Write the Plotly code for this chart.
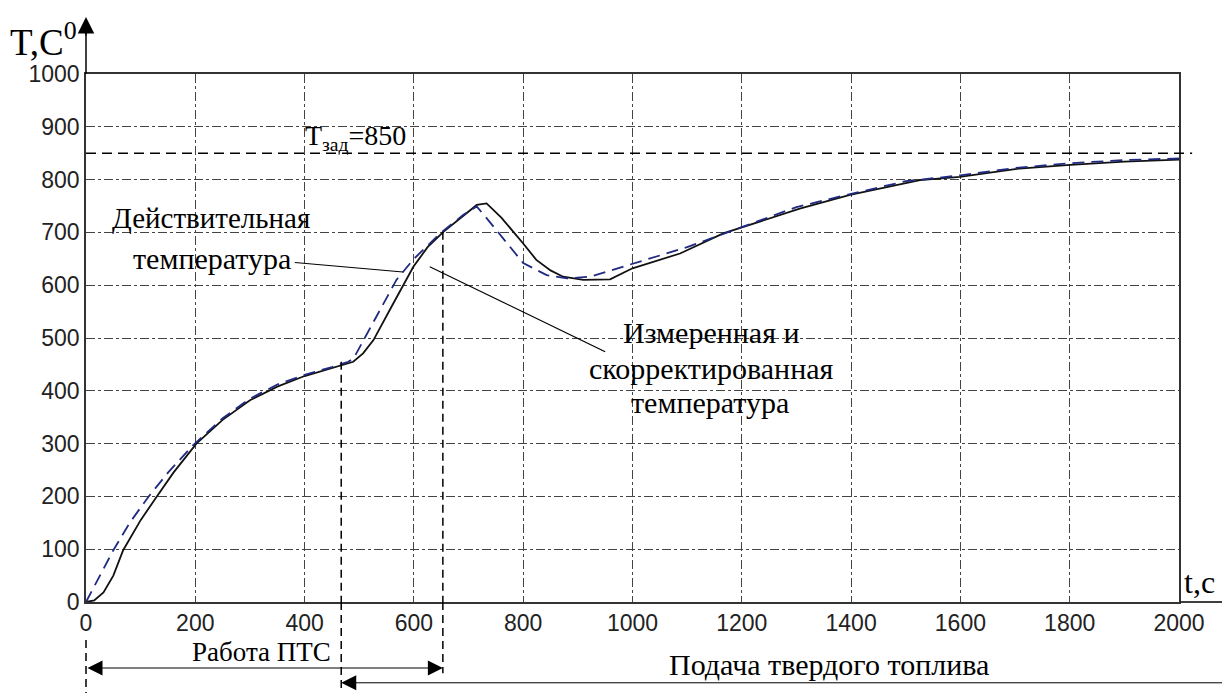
import plotly.graph_objects as go

# ---- data ----
t_actual = [0, 25, 50, 80, 114, 150, 196, 250, 300, 350, 400, 450, 480, 490, 568, 600, 648,
            690, 715, 733, 760, 800, 843, 880, 922, 1000, 1100, 1200, 1300, 1400, 1500,
            1600, 1700, 1800, 1900, 2000]
T_actual = [0, 50, 98, 150, 199, 245, 297, 348, 385, 412, 430, 445, 455, 462, 610, 650, 698,
            733, 749, 727, 692, 642, 619, 613, 616, 641, 672, 710, 748, 773, 797,
            808, 822, 831, 837, 840]

t_meas = [0, 15, 32, 50, 68, 100, 129, 160, 202, 250, 300, 350, 400, 450, 489, 507, 526,
          560, 599, 625, 654, 690, 715, 733, 760, 800, 824, 850, 873, 910, 959, 1000,
          1087, 1166, 1306, 1398, 1489, 1526, 1599, 1700, 1801, 1900, 2000]
T_meas = [0, 3, 18, 50, 98, 155, 199, 245, 300, 345, 382, 408, 428, 443, 455, 471, 496,
          561, 635, 672, 701, 731, 752, 755, 728, 679, 648, 628, 616, 610, 611, 632,
          660, 698, 745, 771, 790, 799, 805, 820, 828, 834, 838]

T_set = 850
t_pts_start = 467      # start of solid fuel feed
t_pts_end = 653        # end of PTS work
x_ticks = [0, 200, 400, 600, 800, 1000, 1200, 1400, 1600, 1800, 2000]
y_ticks = [0, 100, 200, 300, 400, 500, 600, 700, 800, 900, 1000]

SERIF = "Liberation Serif"
SANS = "Liberation Sans"

fig = go.Figure()
fig.add_trace(go.Scatter(x=t_meas, y=T_meas, mode="lines",
                         line=dict(color="#111111", width=1.8), showlegend=False))
fig.add_trace(go.Scatter(x=t_actual, y=T_actual, mode="lines",
                         line=dict(color="#1f2a80", width=1.8, dash="12px,7px"), showlegend=False))

shapes = []
# setpoint line
shapes.append(dict(type="line", xref="x domain", yref="y", x0=0, x1=1.012, y0=T_set, y1=T_set,
                   line=dict(color="black", width=1.5, dash="10px,6px")))
# vertical dashed markers
shapes.append(dict(type="line", xref="x", yref="y", x0=t_pts_start, x1=t_pts_start, y0=455, y1=0,
                   line=dict(color="black", width=1.5, dash="8px,5px")))
shapes.append(dict(type="line", xref="x", yref="paper", x0=t_pts_start, x1=t_pts_start, y0=0, y1=-0.2,
                   line=dict(color="black", width=1.5, dash="8px,5px")))
shapes.append(dict(type="line", xref="x", yref="y", x0=t_pts_end, x1=t_pts_end, y0=701, y1=0,
                   line=dict(color="black", width=1.5, dash="8px,5px")))
shapes.append(dict(type="line", xref="x", yref="paper", x0=t_pts_end, x1=t_pts_end, y0=0, y1=-0.135,
                   line=dict(color="black", width=1.5, dash="8px,5px")))
shapes.append(dict(type="line", xref="x domain", yref="paper", x0=0, x1=0, y0=-0.072, y1=-0.2,
                   line=dict(color="black", width=1.5, dash="8px,5px")))
# leader lines
shapes.append(dict(type="line", xref="x", yref="y", x0=382, y0=643, x1=580, y1=625,
                   line=dict(color="black", width=1.2)))
shapes.append(dict(type="line", xref="x", yref="y", x0=629, y0=635, x1=950, y1=474,
                   line=dict(color="black", width=1.2)))
# axis extension
shapes.append(dict(type="line", xref="x domain", yref="paper", x0=0, x1=0, y0=1, y1=1.08,
                   line=dict(color="black", width=1.5)))

ann = []
# y arrowhead
ann.append(dict(xref="x domain", yref="paper", x=0, y=1.108, ax=0, ay=20, axref="pixel", ayref="pixel",
                text="", showarrow=True, arrowhead=2, arrowsize=2.2, arrowwidth=1.5, arrowcolor="black"))
# x arrow
ann.append(dict(xref="x", yref="y", x=2112, y=0, axref="x", ayref="pixel", ax=2000, ay=0,
                text="", showarrow=True, arrowhead=2, arrowsize=2.2, arrowwidth=1.5, arrowcolor="black"))
# bottom arrows
ann.append(dict(xref="x", yref="paper", x=t_pts_end, y=-0.125, axref="x", ayref="pixel", ax=0, ay=0,
                text="", showarrow=True, arrowhead=2, arrowside="end+start", arrowsize=3,
                arrowwidth=1, arrowcolor="black"))
ann.append(dict(xref="x", yref="paper", x=t_pts_start, y=-0.153, axref="x", ayref="pixel", ax=2100, ay=0,
                text="", showarrow=True, arrowhead=2, arrowsize=3,
                arrowwidth=1, arrowcolor="black"))

def txt(x, y, s, size, xref="x", yref="y", xanchor="center", yanchor="middle", family=SERIF):
    ann.append(dict(xref=xref, yref=yref, x=x, y=y, text=s, showarrow=False,
                    xanchor=xanchor, yanchor=yanchor,
                    font=dict(family=family, size=size, color="black")))

txt(-0.006, 1.066, "T,C<sup>0</sup>", 37, xref="paper", yref="paper", xanchor="right")
txt(1.019, 0.038, "t,c", 32, xref="paper", yref="paper")
txt(397, 880, "T<sub>зад</sub>=850", 28, xanchor="left")
txt(229, 727, "Действительная", 29)
txt(230, 651, "температура", 30)
txt(1144, 510, "Измеренная и", 30)
txt(1144, 443, "скорректированная", 30)
txt(1142, 377, "температура", 30)
txt(322, -0.094, "Работа ПТС", 27, yref="paper")
txt(1360, -0.119, "Подача твердого топлива", 30, yref="paper")

# page body adds an 8px offset: compensate in margins (plot area 1093 x 528)
fig.update_layout(
    width=1230, height=693,
    margin=dict(l=78, r=59, t=66, b=99),
    paper_bgcolor="white", plot_bgcolor="white",
    shapes=shapes, annotations=ann,
    showlegend=False,
)
fig.update_xaxes(range=[0, 2000], tickvals=x_ticks, ticktext=[str(v) for v in x_ticks],
                 showgrid=True, gridcolor="#444444", griddash="dashdot", gridwidth=1,
                 showline=True, mirror=True, linecolor="#333333", linewidth=1.5,
                 zeroline=False, ticks="", tickfont=dict(family=SANS, size=23, color="#222"))
fig.update_yaxes(range=[0, 1000], tickvals=y_ticks, ticktext=[str(v) for v in y_ticks],
                 showgrid=True, gridcolor="#444444", griddash="dashdot", gridwidth=1,
                 showline=True, mirror=True, linecolor="#333333", linewidth=1.5,
                 zeroline=False, ticks="", tickfont=dict(family=SANS, size=23, color="#222"))

fig.write_html("out.html")
